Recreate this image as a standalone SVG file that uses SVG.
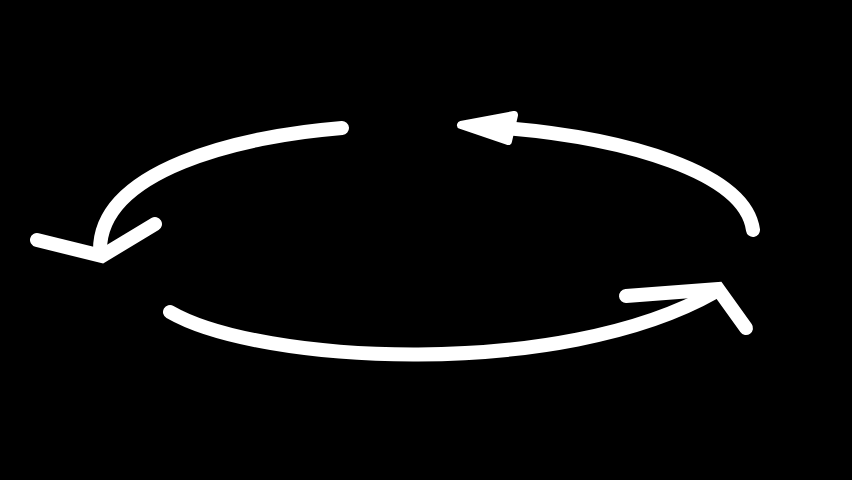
<svg xmlns="http://www.w3.org/2000/svg" width="852" height="480" viewBox="0 0 852 480">
<style>
.arc{fill:none;stroke:#fff;stroke-width:14;stroke-linecap:round}
.head{fill:none;stroke:#fff;stroke-width:14;stroke-linecap:round;stroke-linejoin:miter}
.tri{fill:#fff;stroke:#fff;stroke-width:8;stroke-linejoin:round}
</style>
<rect width="852" height="480" fill="#000"/>
<g id="connectors">
<g id="arc-top-left">
<path class="arc" d="M342,128 C240,136 100,170 100,250"/>
<polyline class="head" points="37,240 102,256 155,224"/>
</g>
<g id="arc-top-right">
<path class="arc" d="M505,128 C625,138 745,172 753,230"/>
<polygon class="tri" points="461,125 514,115 508,141"/>
</g>
<g id="arc-bottom">
<path class="arc" d="M170,312 C260,364 560,380 715,292"/>
<polyline class="head" points="626,296 718,289 746,328"/>
</g>
</g>
</svg>
